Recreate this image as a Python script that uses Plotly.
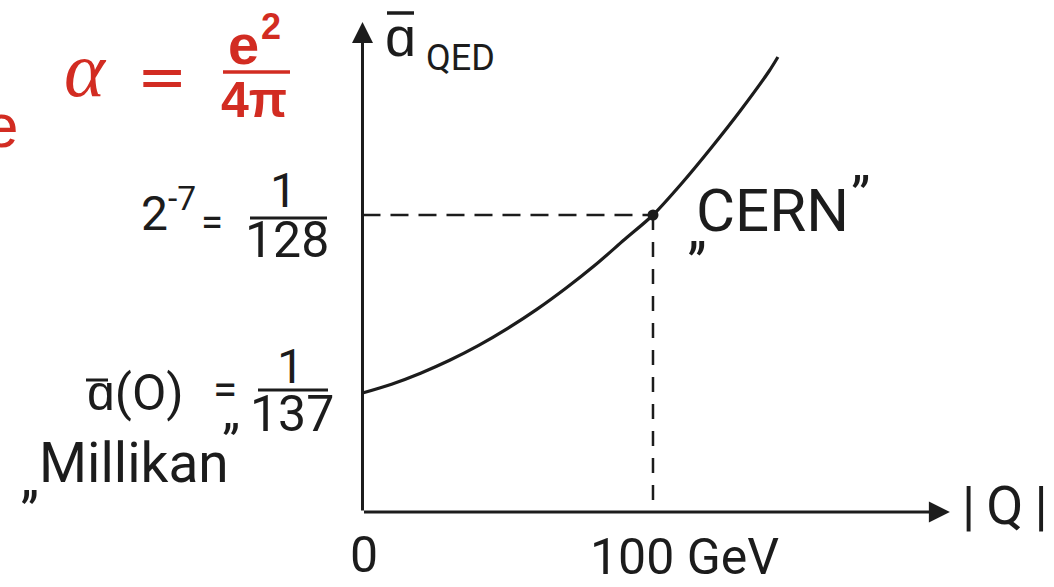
import plotly.graph_objects as go

# ---- data ----
Q_GeV = [0, 10, 20, 30, 40, 50, 60, 70, 80, 90, 100, 110, 120, 130, 140, 143]
alpha_QED = [0.0072993, 0.0073247, 0.0073564, 0.0073936, 0.0074365, 0.0074856,
             0.0075403, 0.0076012, 0.0076675, 0.0077402, 0.0078125, 0.0079048,
             0.0080057, 0.0081124, 0.0082277, 0.0082681]
alpha_0 = 1 / 137
alpha_CERN = 1 / 128
Q_CERN = 100
x_axis_end = 202.2
y_axis_bottom = 0.00695615
y_axis_top = 0.008369

W, H = 1054, 587
X_RANGE = [-124.78, 238.04]
Y_RANGE = [0.0067399, 0.00843241]

INK = "#1c1c1c"
RED = "#d22c22"
SANS = "Roboto, Liberation Sans, sans-serif"

fig = go.Figure()

# dashed guide lines
fig.add_trace(go.Scatter(x=[0, Q_CERN], y=[alpha_CERN, alpha_CERN], mode="lines",
                         line=dict(color=INK, width=2.5, dash="18px,10px"),
                         hoverinfo="skip", showlegend=False))
fig.add_trace(go.Scatter(x=[Q_CERN, Q_CERN], y=[alpha_CERN, y_axis_bottom], mode="lines",
                         line=dict(color=INK, width=2.5, dash="15px,12px"),
                         hoverinfo="skip", showlegend=False))
# running coupling curve
fig.add_trace(go.Scatter(x=Q_GeV, y=alpha_QED, mode="lines",
                         line=dict(color=INK, width=3.2, shape="spline", smoothing=0.8),
                         showlegend=False))
# CERN point
fig.add_trace(go.Scatter(x=[Q_CERN], y=[alpha_CERN], mode="markers",
                         marker=dict(color=INK, size=11, symbol="circle"),
                         showlegend=False))

anns = []
# axes with arrows
anns.append(dict(x=x_axis_end, y=y_axis_bottom, ax=0, ay=y_axis_bottom, xref="x", yref="y",
                 axref="x", ayref="y", text="", showarrow=True, arrowhead=2,
                 arrowsize=1.4, arrowwidth=3, arrowcolor=INK, standoff=0, startstandoff=0))
anns.append(dict(x=0, y=y_axis_top, ax=0, ay=y_axis_bottom, xref="x", yref="y",
                 axref="x", ayref="y", text="", showarrow=True, arrowhead=2,
                 arrowsize=1.4, arrowwidth=3, arrowcolor=INK, standoff=0, startstandoff=0))


def txt(text, px, py, size, color=INK, family=SANS, xanchor="center", yanchor="middle"):
    anns.append(dict(text=text, x=px / W, y=1 - py / H, xref="paper", yref="paper",
                     showarrow=False, xanchor=xanchor, yanchor=yanchor,
                     font=dict(size=size, color=color, family=family)))


shapes = []


def bar(x0, x1, py, color=INK, w=3):
    shapes.append(dict(type="line", xref="paper", yref="paper",
                       x0=x0 / W, x1=x1 / W, y0=1 - py / H, y1=1 - py / H,
                       line=dict(color=color, width=w)))


# red formula  alpha = e^2 / 4pi
txt("e", 20, 126, 62, RED, "Liberation Sans, Arial", xanchor="right")
txt("<i>α</i>", 85, 70, 78, RED, "Liberation Serif, DejaVu Serif")
txt("=", 162, 76, 60, RED, "DejaVu Sans")
txt("<b>e</b>", 243, 44, 56, RED, "Liberation Sans, Arial")
txt("<b>2</b>", 271, 26, 36, RED, "Liberation Sans, Arial")
bar(223, 290, 72, RED, 3.5)
txt("<b>4π</b>", 254, 100, 50, RED, "Liberation Sans, Arial")

# y-axis title  alpha_QED with bar
txt("ɑ", 400, 37, 56)
bar(387, 414, 13, INK, 3.5)
txt("QED", 460, 58, 36)

# 2^-7 = 1/128
txt("2<sup>-7</sup>", 198, 210, 48, xanchor="right")
txt("=", 212, 222, 40)
txt("1", 283, 190, 48)
bar(250, 327, 218)
txt("128", 287, 240, 50)

# alpha(0) = 1/137
txt("ɑ(O)", 135, 393, 50)
bar(86, 108, 380)
txt("=", 225, 390, 44)
txt("1", 290, 366, 48)
bar(258, 328, 390)
txt("137", 292, 414, 50)

# Millikan
txt("„", 30, 478, 52)
txt("Millikan", 134, 463, 55)
txt("”", 231, 444, 50)

# CERN
txt("„", 697, 228, 54)
txt("CERN", 772, 211, 60)
txt("”", 860, 196, 54)

# x tick labels and axis title
txt("0", 364, 555, 50)
txt("100 GeV", 684, 557, 50)
txt("|\u2009Q\u2009|", 1005, 505, 54)

fig.update_layout(
    width=W, height=H,
    margin=dict(l=0, r=0, t=0, b=0, pad=0),
    paper_bgcolor="white", plot_bgcolor="white",
    xaxis=dict(range=X_RANGE, visible=False, fixedrange=True),
    yaxis=dict(range=Y_RANGE, visible=False, fixedrange=True),
    annotations=anns, shapes=shapes,
    showlegend=False,
)

fig.write_html("out.html")
